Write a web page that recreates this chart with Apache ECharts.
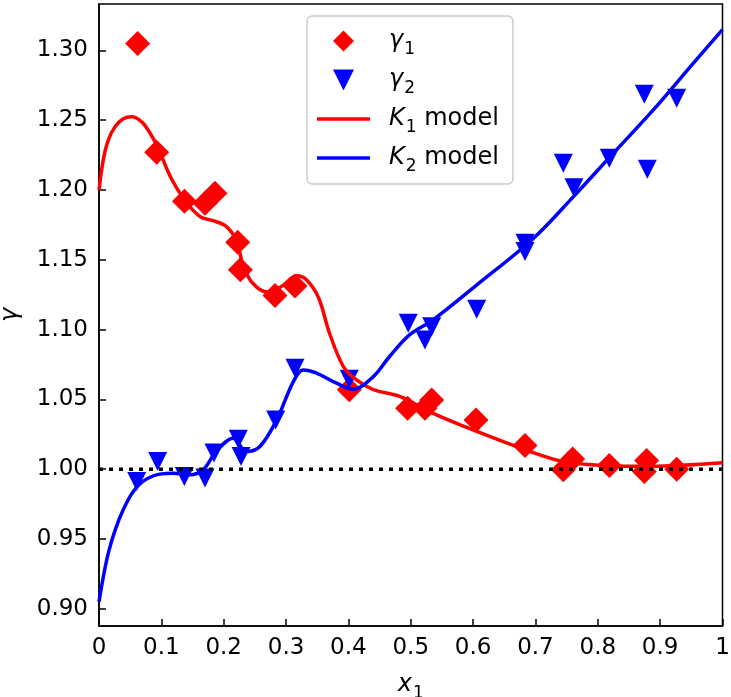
<!DOCTYPE html>
<html>
<head>
<meta charset="utf-8">
<script src="https://cdn.jsdelivr.net/npm/echarts@6/dist/echarts.min.js"></script>
<style>
html, body { margin: 0; padding: 0; background: #fff; }
#main { width: 731px; height: 697px; }
</style>
</head>
<body>
<div id="main"></div>
<script>
// measured points, gamma_1 (diamonds)
var gamma1X = [0.062, 0.0925, 0.137, 0.170, 0.186, 0.2224, 0.2267, 0.2823, 0.3144, 0.4014, 0.495, 0.5228, 0.5336, 0.6047, 0.6832, 0.7447, 0.7596, 0.8185, 0.8783, 0.8746, 0.9265];
var gamma1Y = [1.305, 1.227, 1.192, 1.1905, 1.1977, 1.1626, 1.1428, 1.1244, 1.1313, 1.0568, 1.0437, 1.0437, 1.0496, 1.0353, 1.0169, 0.9995, 1.0072, 1.0026, 1.0062, 0.9983, 1.000];
// measured points, gamma_2 (triangles)
var gamma2X = [0.0604, 0.0941, 0.1368, 0.170, 0.1844, 0.2234, 0.2278, 0.2834, 0.3144, 0.4014, 0.496, 0.5228, 0.5336, 0.6058, 0.6832, 0.6832, 0.7447, 0.7617, 0.8185, 0.8746, 0.8794, 0.9265];
var gamma2Y = [0.9911, 1.0054, 0.9947, 0.9936, 1.0115, 1.0215, 1.009, 1.0353, 1.0723, 1.0645, 1.1046, 1.0926, 1.1021, 1.1146, 1.1619, 1.1559, 1.2192, 1.2017, 1.2228, 1.2686, 1.2149, 1.2658];
// K1 model curve
var k1X = [0, 0.007, 0.015, 0.026, 0.039, 0.052, 0.068, 0.082, 0.095, 0.114, 0.137, 0.162, 0.183, 0.204, 0.220, 0.232, 0.247, 0.269, 0.293, 0.317, 0.333, 0.352, 0.370, 0.392, 0.413, 0.440, 0.483, 0.536, 0.606, 0.683, 0.745, 0.814, 0.884, 1.0];
var k1Y = [1.200, 1.222, 1.236, 1.2455, 1.251, 1.2525, 1.249, 1.2407, 1.230, 1.210, 1.193, 1.181, 1.178, 1.174, 1.164, 1.145, 1.133, 1.127, 1.131, 1.1385, 1.1356, 1.123, 1.097, 1.0735, 1.064, 1.057, 1.052, 1.040, 1.027, 1.014, 1.0054, 1.0026, 1.002, 1.0045];
// K2 model curve
var k2X = [0, 0.007, 0.015, 0.026, 0.039, 0.055, 0.074, 0.100, 0.119, 0.1455, 0.167, 0.188, 0.215, 0.2365, 0.258, 0.285, 0.3117, 0.3277, 0.349, 0.381, 0.408, 0.440, 0.466, 0.498, 0.536, 0.606, 0.697, 0.761, 0.825, 0.889, 0.953, 1.0];
var k2Y = [0.905, 0.923, 0.940, 0.9565, 0.971, 0.984, 0.9923, 0.9966, 0.997, 0.996, 0.9995, 1.0126, 1.0222, 1.0126, 1.0162, 1.0353, 1.0627, 1.0711, 1.0688, 1.0616, 1.0573, 1.0663, 1.0807, 1.0962, 1.107, 1.132, 1.1655, 1.1953, 1.2264, 1.2574, 1.2908, 1.315];
// reference line gamma = 1
var refX = [0, 1];
var refY = [1, 1];
var yTicks = [0.90, 0.95, 1.00, 1.05, 1.10, 1.15, 1.20, 1.25, 1.30];

function zip(xs, ys) {
	return xs.map(function (x, i) { return [x, ys[i]]; });
}

var FONT = 'DejaVu Sans';
var subRich = {
	i: { fontFamily: FONT, fontSize: 24, fontStyle: 'italic', color: '#000', verticalAlign: 'bottom' },
	t: { fontFamily: FONT, fontSize: 24, color: '#000', verticalAlign: 'bottom' },
	s: { fontFamily: FONT, fontSize: 17, color: '#000', verticalAlign: 'bottom', padding: [0, 0, -5, 1] },
	p: { fontFamily: FONT, fontSize: 24, padding: [0, 0, 0, 14] }
};
// legend icons as paths so they keep their aspect
var barIcon = 'path://M0,0 L53,0 L53,3.6 L0,3.6 Z';
var downIcon = 'path://M0,0 L2,0 L1,2 Z';
var diamondIcon = 'path://M1,0 L2,1 L1,2 L0,1 Z';

var myChart = echarts.init(document.getElementById('main'), null, { renderer: 'canvas' });
myChart.setOption({
	animation: false,
	backgroundColor: '#fff',
	grid: {
		left: 99, right: 8.5, top: 4, bottom: 71,
		containLabel: false, outerBoundsMode: 'none',
		show: true, borderColor: '#000', borderWidth: 1.5
	},
	legend: {
		left: 307, top: 16,
		orient: 'vertical',
		padding: [13, 14, 9, 10],
		itemWidth: 53, itemHeight: 21, itemGap: 10,
		symbolKeepAspect: true,
		backgroundColor: '#fff',
		borderColor: '#cccccc', borderWidth: 1.5, borderRadius: 5,
		data: [
			{ name: 'g1', icon: diamondIcon },
			{ name: 'g2', icon: downIcon },
			{ name: 'K1', icon: barIcon },
			{ name: 'K2', icon: barIcon }
		],
		formatter: function (name) {
			if (name === 'g1') return '{p|}{i|γ}{s|1}';
			if (name === 'g2') return '{p|}{i|γ}{s|2}';
			if (name === 'K1') return '{p|}{i|K}{s|1}{t| model}';
			return '{p|}{i|K}{s|2}{t| model}';
		},
		textStyle: { rich: subRich }
	},
	xAxis: {
		type: 'value', min: 0, max: 1, interval: 0.1,
		name: '{i|x}{s|1}', nameLocation: 'middle', nameGap: 47,
		nameTextStyle: { rich: subRich },
		axisLine: { onZero: false, lineStyle: { color: '#000', width: 1.5 } },
		axisTick: { show: true, inside: true, length: 7, lineStyle: { color: '#000', width: 1.5 } },
		axisLabel: { margin: 11, fontFamily: FONT, fontSize: 23, color: '#000' },
		splitLine: { show: false }
	},
	yAxis: {
		type: 'value', min: 0.8876, max: 1.3333,
		name: 'γ', nameLocation: 'middle', nameGap: 76, nameRotate: 90,
		nameTextStyle: { fontFamily: FONT, fontSize: 24, fontStyle: 'italic', color: '#000' },
		axisLine: { onZero: false, lineStyle: { color: '#000', width: 1.5 } },
		axisTick: { show: true, inside: true, length: 7, customValues: yTicks, lineStyle: { color: '#000', width: 1.5 } },
		axisLabel: {
			margin: 11, fontFamily: FONT, fontSize: 23, color: '#000',
			customValues: yTicks,
			formatter: function (v) { return v.toFixed(2); }
		},
		splitLine: { show: false }
	},
	series: [
		{
			name: 'g1', type: 'scatter', symbol: 'diamond', symbolSize: 25,
			itemStyle: { color: '#ff0000', opacity: 1 },
			data: zip(gamma1X, gamma1Y)
		},
		{
			name: 'g2', type: 'scatter', symbol: 'triangle', symbolRotate: 180, symbolSize: 19,
			itemStyle: { color: '#0000ff', opacity: 1 },
			data: zip(gamma2X, gamma2Y)
		},
		{
			name: 'K1', type: 'line', smooth: 0.35, showSymbol: false, symbol: 'none',
			lineStyle: { color: '#ff0000', width: 3.5 }, itemStyle: { color: '#ff0000' },
			data: zip(k1X, k1Y)
		},
		{
			name: 'K2', type: 'line', smooth: 0.35, showSymbol: false, symbol: 'none',
			lineStyle: { color: '#0000ff', width: 3.5 }, itemStyle: { color: '#0000ff' },
			data: zip(k2X, k2Y)
		},
		{
			name: 'ref', type: 'line', showSymbol: false, symbol: 'none', silent: true,
			lineStyle: { color: '#000', width: 3.5, type: [4, 6], cap: 'butt' },
			data: zip(refX, refY)
		}
	]
});
</script>
</body>
</html>
